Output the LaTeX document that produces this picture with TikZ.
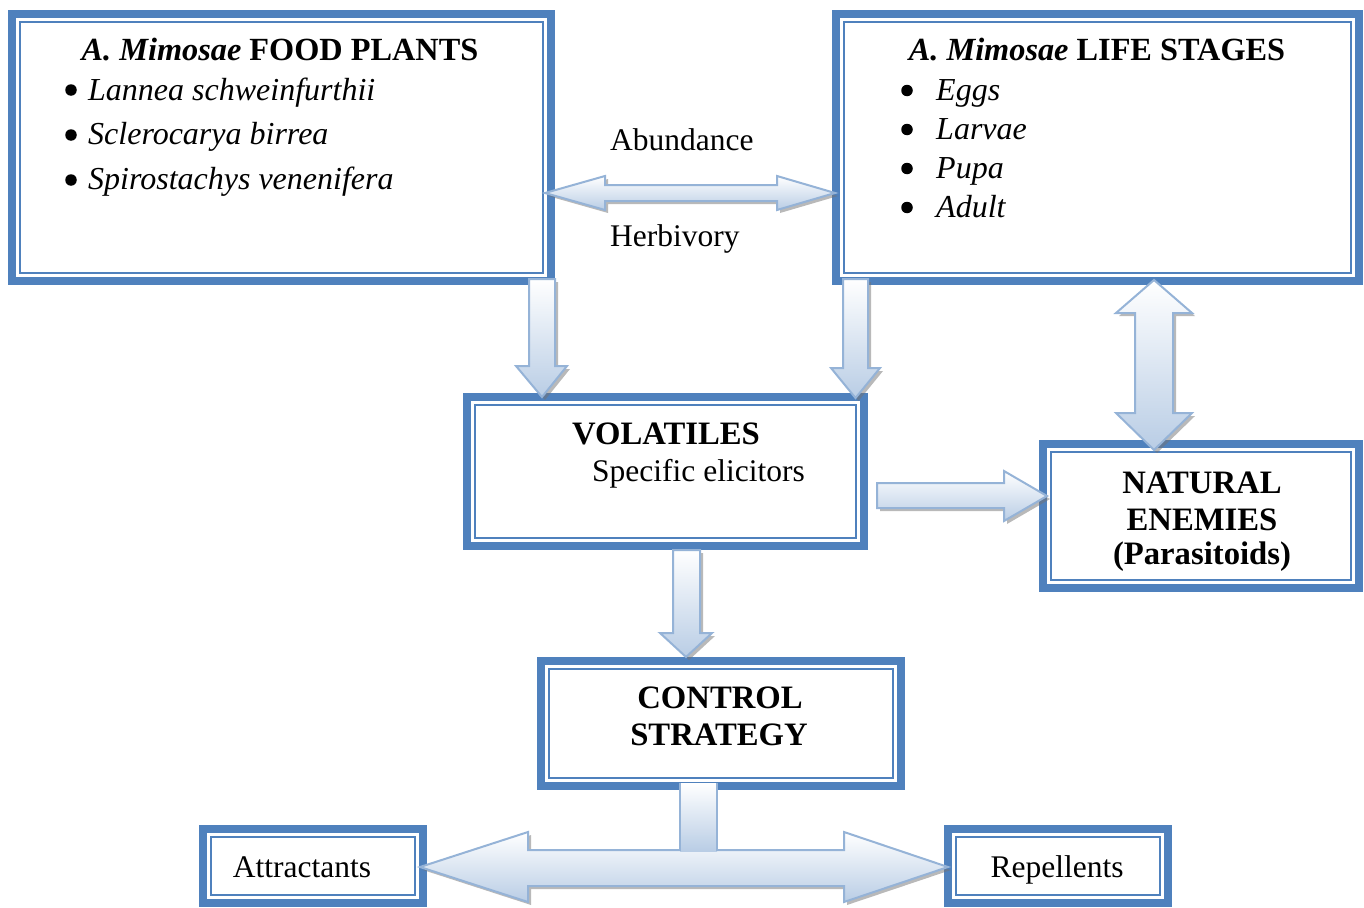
\documentclass[tikz,border=0pt]{standalone}
\usepackage{fontspec}
\setmainfont{Liberation Serif}
\definecolor{bblue}{RGB}{79,129,189}
\definecolor{aline}{RGB}{149,179,215}
\definecolor{afill}{RGB}{185,205,229}
\usetikzlibrary{calc}
\tikzset{
  boxout/.style={draw=bblue, line width=8pt, rectangle, inner sep=0pt, outer sep=0pt},
  boxin/.style={draw=bblue, line width=2pt},
  blockarrow/.style={top color=white, bottom color=afill, draw=aline, line width=2pt, line join=miter},
  ashadow/.style={fill=black!55, opacity=0.5},
  txt/.style={inner sep=0pt, font=\fontsize{31.5}{38}\selectfont},
  txti/.style={inner sep=0pt, font=\fontsize{32}{38}\selectfont\itshape},
  txtb/.style={inner sep=0pt, font=\fontsize{32.7}{38}\selectfont\bfseries},
  txtt/.style={inner sep=0pt, font=\fontsize{32.3}{38}\selectfont\bfseries},
  bul/.style={circle, fill=black, inner sep=0pt, minimum size=11.5pt},
}
\newcommand\innerframe[1]{\draw[boxin] ($(#1.south west)+(8,-8)$) rectangle ($(#1.north east)+(-8,8)$);}
\newcommand\barrow[1]{\fill[ashadow, shift={(3,3)}] #1; \path[blockarrow] #1;}
\begin{document}
\begin{tikzpicture}[x=1pt,y=-1pt]
\useasboundingbox (0,0) rectangle (1364,907);
% boxes
\node[boxout, minimum width=539pt, minimum height=267pt] (food) at (281.5,147.5) {};
\node[boxout, minimum width=523pt, minimum height=267pt] (life) at (1097.5,147.5) {};
\node[boxout, minimum width=397pt, minimum height=149pt] (vol) at (665.5,471.5) {};
\node[boxout, minimum width=316pt, minimum height=144pt] (nat) at (1201,516) {};
\node[boxout, minimum width=360pt, minimum height=125pt] (ctrl) at (721,723.5) {};
\node[boxout, minimum width=220pt, minimum height=74pt] (attr) at (313,866) {};
\node[boxout, minimum width=220pt, minimum height=74pt] (rep) at (1058,866) {};
\innerframe{food}\innerframe{life}\innerframe{vol}\innerframe{nat}
\innerframe{ctrl}\innerframe{attr}\innerframe{rep}
% texts box 1
\node[txtt, anchor=base] (foodt) at (280,60.5) {\textit{A. Mimosae} FOOD PLANTS};
\node[bul] (f1b) at (71,90) {};
\node[txti, anchor=base west] (f1) at (88,100) {Lannea schweinfurthii};
\node[bul] (f2b) at (71,135) {};
\node[txti, anchor=base west] (f2) at (88,144.5) {Sclerocarya birrea};
\node[bul] (f3b) at (71,180) {};
\node[txti, anchor=base west] (f3) at (88,189) {Spirostachys venenifera};
% texts box 2
\node[txtt, anchor=base] (lifet) at (1097,60.5) {\textit{A. Mimosae} LIFE STAGES};
\node[bul] (l1b) at (907,90.5) {};
\node[txti, anchor=base west] (l1) at (936,100.5) {Eggs};
\node[bul] (l2b) at (907,129.5) {};
\node[txti, anchor=base west] (l2) at (936,139.5) {Larvae};
\node[bul] (l3b) at (907,168.5) {};
\node[txti, anchor=base west] (l3) at (936,178.5) {Pupa};
\node[bul] (l4b) at (907,207.5) {};
\node[txti, anchor=base west] (l4) at (936,217.5) {Adult};
% labels
\node[txt, anchor=base west] (abund) at (610,150.5) {Abundance};
\node[txt, anchor=base west] (herb) at (610,246) {Herbivory};
% volatiles
\node[txtb, anchor=base] (volt) at (666,444.5) {VOLATILES};
\node[txt, anchor=base west] (vols) at (592,481.5) {Specific elicitors};
% natural enemies
\node[txtb, anchor=base] (n1) at (1202,493.5) {NATURAL};
\node[txtb, anchor=base] (n2) at (1202,530.5) {ENEMIES};
\node[txtb, anchor=base] (n3) at (1202,564) {(Parasitoids)};
% control
\node[txtb, anchor=base] (c1) at (720,708.5) {CONTROL};
\node[txtb, anchor=base] (c2) at (719,745.5) {STRATEGY};
% leaves
\node[txt, anchor=base] (attrt) at (302,877.5) {Attractants};
\node[txt, anchor=base] (rept) at (1057,877.5) {Repellents};
% block arrows
\barrow{(545,193) -- (605,176) -- (605,185) -- (777,185) -- (777,176) -- (835,193) -- (777,210) -- (777,201) -- (605,201) -- (605,210) -- cycle}
\barrow{(529,279) -- (555,279) -- (555,366) -- (567,366) -- (542,397) -- (516,366) -- (529,366) -- cycle}
\barrow{(843,279) -- (868,279) -- (868,368) -- (880,368) -- (855.5,398) -- (831,368) -- (843,368) -- cycle}
\barrow{(1154,280) -- (1192,313) -- (1173,313) -- (1173,413) -- (1192,413) -- (1154,450) -- (1116,413) -- (1135,413) -- (1135,313) -- (1116,313) -- cycle}
\barrow{(877,483) -- (1004,483) -- (1004,471) -- (1047,496) -- (1004,521) -- (1004,508) -- (877,508) -- cycle}
\barrow{(673,550) -- (700,550) -- (700,633) -- (712,633) -- (686,657) -- (660,633) -- (673,633) -- cycle}
\barrow{(420,867) -- (528,832) -- (528,850) -- (844,850) -- (844,832) -- (948,867) -- (844,902) -- (844,886) -- (528,886) -- (528,902) -- cycle}
\fill[top color=white, bottom color=afill] (680,783) rectangle (717,851);
\draw[aline, line width=2pt] (680,783) -- (680,851) (717,783) -- (717,851);
\end{tikzpicture}
\end{document}
